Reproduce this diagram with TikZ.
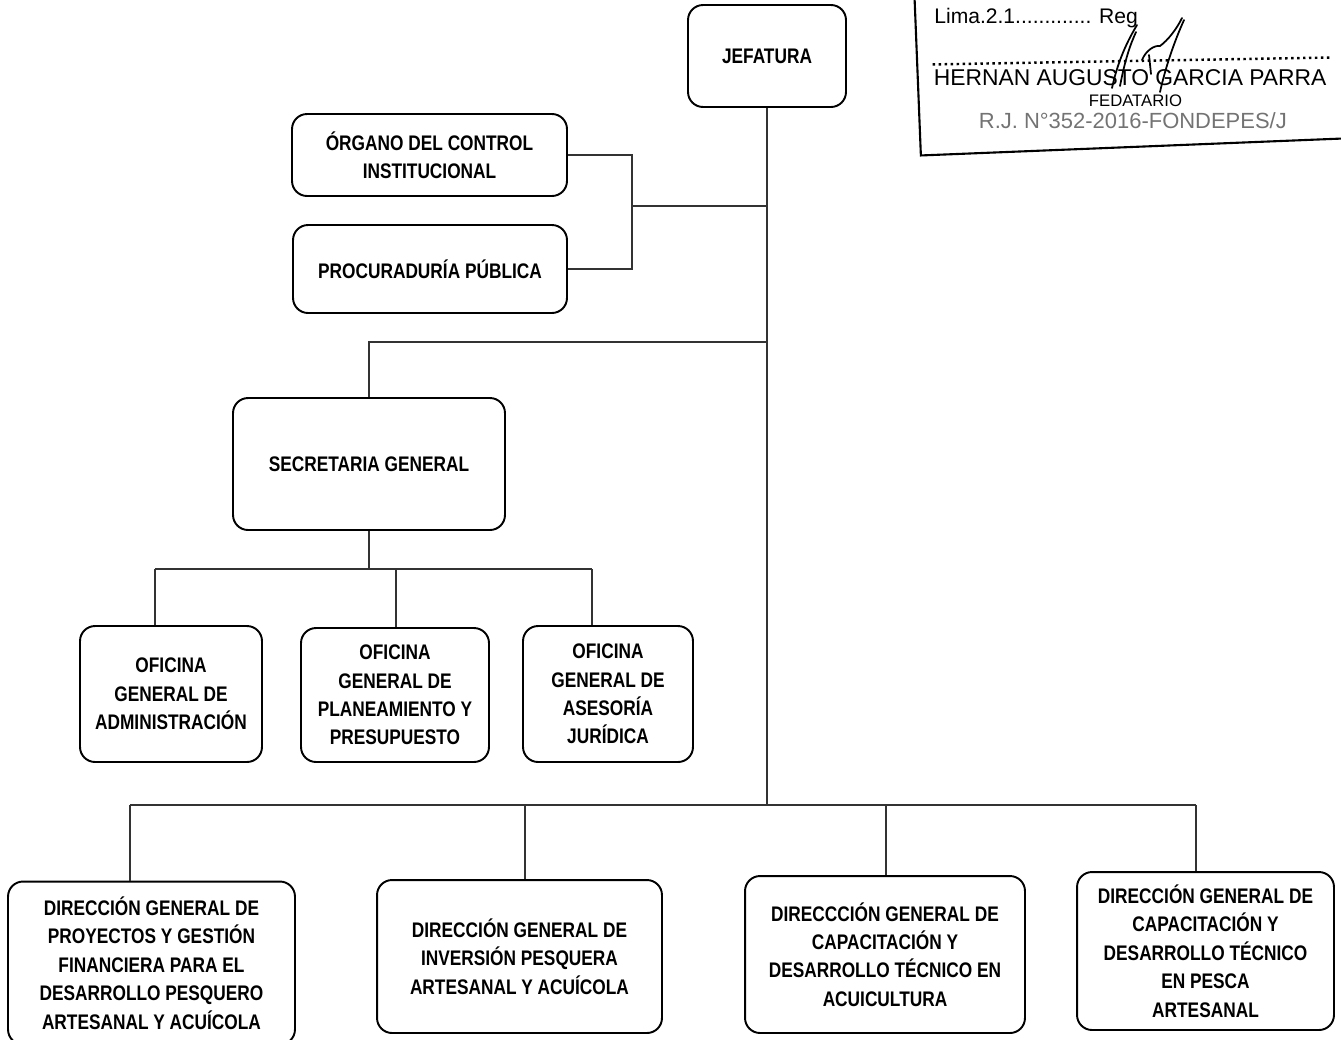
\documentclass[tikz,border=0pt]{standalone}
\usepackage{fontspec}
\setmainfont{Liberation Sans}[FakeStretch=0.82]
\newfontfamily\sellofont{Liberation Sans}

\tikzset{
	unidad/.style={draw, line width=1.1pt, rounded corners=0.3cm, align=center, inner sep=0pt,
		font=\fontsize{12}{16.2}\selectfont\bfseries},
	enlace/.style={line width=0.6pt, black!80},
	sello/.style={font=\sellofont\fontsize{13}{15}\selectfont, inner sep=0pt},
	firma/.style={line width=1pt, line cap=round}
}

\begin{document}
\begin{tikzpicture}[x=0.02cm, y=-0.02cm]
	\useasboundingbox (0, 0) rectangle (1341, 1039);

	\node[unidad, minimum width=3.16cm, minimum height=2.04cm] (jefatura) at (767, 56) {JEFATURA};
	\node[unidad, minimum width=5.5cm, minimum height=1.64cm] (organo) at (429.5, 155) {ÓRGANO DEL CONTROL\\INSTITUCIONAL};
	\node[unidad, minimum width=5.48cm, minimum height=1.76cm] (procuraduria) at (430, 269) {PROCURADURÍA PÚBLICA};
	\node[unidad, minimum width=5.44cm, minimum height=2.64cm] (secretaria) at (369, 464) {SECRETARIA GENERAL};

	\node[unidad, minimum width=3.64cm, minimum height=2.72cm] (ofiAdm) at (171, 694) {OFICINA\\GENERAL DE\\ADMINISTRACIÓN};
	\node[unidad, minimum width=3.76cm, minimum height=2.68cm] (ofiPla) at (395, 695) {OFICINA\\GENERAL DE\\PLANEAMIENTO Y\\PRESUPUESTO};
	\node[unidad, minimum width=3.4cm, minimum height=2.72cm] (ofiAse) at (608, 694) {OFICINA\\GENERAL DE\\ASESORÍA\\JURÍDICA};

	\node[unidad, minimum width=5.74cm, minimum height=3.26cm] (dirProy) at (151.5, 963) {DIRECCIÓN GENERAL DE\\PROYECTOS Y GESTIÓN\\FINANCIERA PARA EL\\DESARROLLO PESQUERO\\ARTESANAL Y ACUÍCOLA};
	\node[unidad, minimum width=5.7cm, minimum height=3.06cm] (dirInv) at (519.5, 956.5) {DIRECCIÓN GENERAL DE\\INVERSIÓN PESQUERA\\ARTESANAL Y ACUÍCOLA};
	\node[unidad, minimum width=5.6cm, minimum height=3.14cm] (dirAcu) at (885, 954.5) {DIRECCCIÓN GENERAL DE\\CAPACITACIÓN Y\\DESARROLLO TÉCNICO EN\\ACUICULTURA};
	\node[unidad, minimum width=5.14cm, minimum height=3.16cm] (dirPes) at (1205.5, 951) {DIRECCIÓN GENERAL DE\\CAPACITACIÓN Y\\DESARROLLO TÉCNICO\\EN PESCA\\ARTESANAL};

	\coordinate (apoyo) at (632, 206);
	\coordinate (ramaSec) at (767, 342);
	\coordinate (baseDir) at (767, 805);
	\coordinate (baseOfi) at (369, 569);
	\coordinate (bAdm) at (155, 569);
	\coordinate (bPla) at (396, 569);
	\coordinate (bAse) at (592, 569);
	\coordinate (bProy) at (130, 805);
	\coordinate (bInv) at (525, 805);
	\coordinate (bAcu) at (886, 805);
	\coordinate (bPes) at (1196, 805);

	\draw[enlace] (jefatura.south) -- (baseDir);
	\draw[enlace] (organo.east) -| (apoyo) |- (procuraduria.east);
	\draw[enlace] (apoyo) -- (apoyo -| jefatura.south);
	\draw[enlace] (ramaSec) -| (secretaria.north);

	\draw[enlace] (secretaria.south) -- (baseOfi);
	\draw[enlace] (bAdm) -- (bAse);
	\draw[enlace] (bAdm) -- (bAdm |- ofiAdm.north);
	\draw[enlace] (bPla) -- (bPla |- ofiPla.north);
	\draw[enlace] (bAse) -- (bAse |- ofiAse.north);

	\draw[enlace] (bProy) -- (bPes);
	\draw[enlace] (bProy) -- (bProy |- dirProy.north);
	\draw[enlace] (bInv) -- (bInv |- dirInv.north);
	\draw[enlace] (bAcu) -- (bAcu |- dirAcu.north);
	\draw[enlace] (bPes) -- (bPes |- dirPes.north);

	\begin{scope}[rotate around={2.3:(1130, 80)}]
		\draw[line width=1.2pt] (918, -10) -- (918, 147) -- (1345, 147);
	\end{scope}
	\begin{scope}[rotate around={1:(1130, 80)}]
		\node[sello, font=\sellofont\fontsize{12}{14}\selectfont, anchor=base west] (lima) at (935, 20) {Lima.2.1............. Reg};
		\draw[line width=1.4pt, dotted] (933, 61) -- (1332, 61);
		\node[sello, anchor=base] (fedatario) at (1130, 85) {HERNAN AUGUSTO GARCIA PARRA};
		\node[sello, font=\sellofont\fontsize{9.5}{11}\selectfont, anchor=base] (cargo) at (1135, 107) {FEDATARIO};
		\node[sello, font=\sellofont\fontsize{12.5}{14}\selectfont, text=black!55, anchor=base] (resolucion) at (1132, 129) {R.J. N°352-2016-FONDEPES/J};
	\end{scope}

	\draw[firma] (1112, 88) .. controls (1118, 60) and (1128, 40) .. (1137, 25);
	\draw[firma] (1120, 86) .. controls (1125, 60) and (1130, 45) .. (1136, 32);
	\draw[firma] (1142, 60) .. controls (1146, 50) and (1155, 45) .. (1160, 46) .. controls (1168, 40) and (1176, 30) .. (1182, 18);
	\draw[firma] (1160, 92) .. controls (1166, 65) and (1175, 40) .. (1184, 20);
	\draw[firma] (1149, 55) -- (1151, 74);

\end{tikzpicture}
\end{document}
